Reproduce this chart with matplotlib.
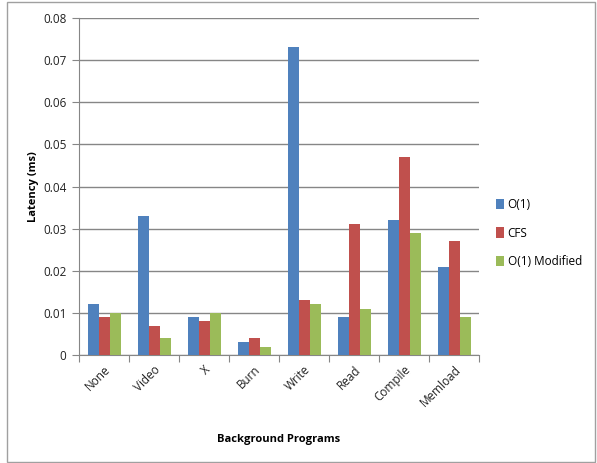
import numpy as np
import matplotlib.pyplot as plt
from matplotlib.patches import Rectangle

programs = ['None', 'Video', 'X', 'Burn', 'Write', 'Read', 'Compile', 'Memload']
o1 = [0.012, 0.033, 0.009, 0.003, 0.073, 0.009, 0.032, 0.021]
cfs = [0.009, 0.007, 0.008, 0.004, 0.013, 0.031, 0.047, 0.027]
o1_mod = [0.010, 0.004, 0.010, 0.002, 0.012, 0.011, 0.029, 0.009]
series_names = ['O(1)', 'CFS', 'O(1) Modified']
colors = ['#4F81BD', '#C0504D', '#9BBB59']

plt.rcParams['font.family'] = ['Open Sans', 'DejaVu Sans']

fig = plt.figure(figsize=(5.97, 4.63), dpi=100)
W, H = 597, 463
ax = fig.add_axes([79 / W, 1 - 355 / H, (479 - 79) / W, (355 - 18) / H])

x = np.arange(len(programs))
bw = 0.22
for i, (vals, name, c) in enumerate(zip([o1, cfs, o1_mod], series_names, colors)):
    ax.bar(x + (i - 1) * bw, vals, bw, color=c, label=name, zorder=3)

ax.set_xlim(-0.5, len(programs) - 0.5)
ax.set_ylim(0, 0.08)
ax.set_yticks(np.arange(0, 0.081, 0.01))
ax.set_yticklabels(['0'] + ['%.2f' % v for v in np.arange(0.01, 0.081, 0.01)])
ax.yaxis.grid(True, color='#868686', linewidth=1, zorder=0)

ax.set_xticks(np.arange(-0.5, len(programs), 1.0))
ax.set_xticklabels([])
ax.set_xticks(x, minor=True)
ax.set_xticklabels(programs, minor=True, rotation=45, ha='right', va='top',
                   rotation_mode='anchor', fontsize=8.5, color='#222222')
ax.tick_params(axis='x', which='minor', length=0, pad=6)
ax.tick_params(axis='x', which='major', length=5, color='#868686', direction='out')
ax.tick_params(axis='y', length=5, color='#868686', direction='out', labelsize=8.5,
               labelcolor='#222222', pad=4)

for s in ['top', 'right']:
    ax.spines[s].set_visible(False)
for s in ['left', 'bottom']:
    ax.spines[s].set_color('#868686')

ax.set_ylabel('Latency (ms)', fontsize=8, fontweight='bold', labelpad=3)
ax.set_xlabel('Background Programs', fontsize=8, fontweight='bold', labelpad=18)

ax.legend(loc='center left', bbox_to_anchor=(1.03, 0.362), frameon=False,
          fontsize=8.5, handlelength=0.7, handleheight=1.0, handletextpad=0.3,
          labelspacing=1.3, borderaxespad=0)

fig.patches.append(Rectangle((7 / W, 1 / H), (595 - 7) / W, (461 - 1) / H,
                             transform=fig.transFigure, fill=False,
                             edgecolor='#A0A0A0', linewidth=1))

fig.savefig('out.png', dpi=100)
